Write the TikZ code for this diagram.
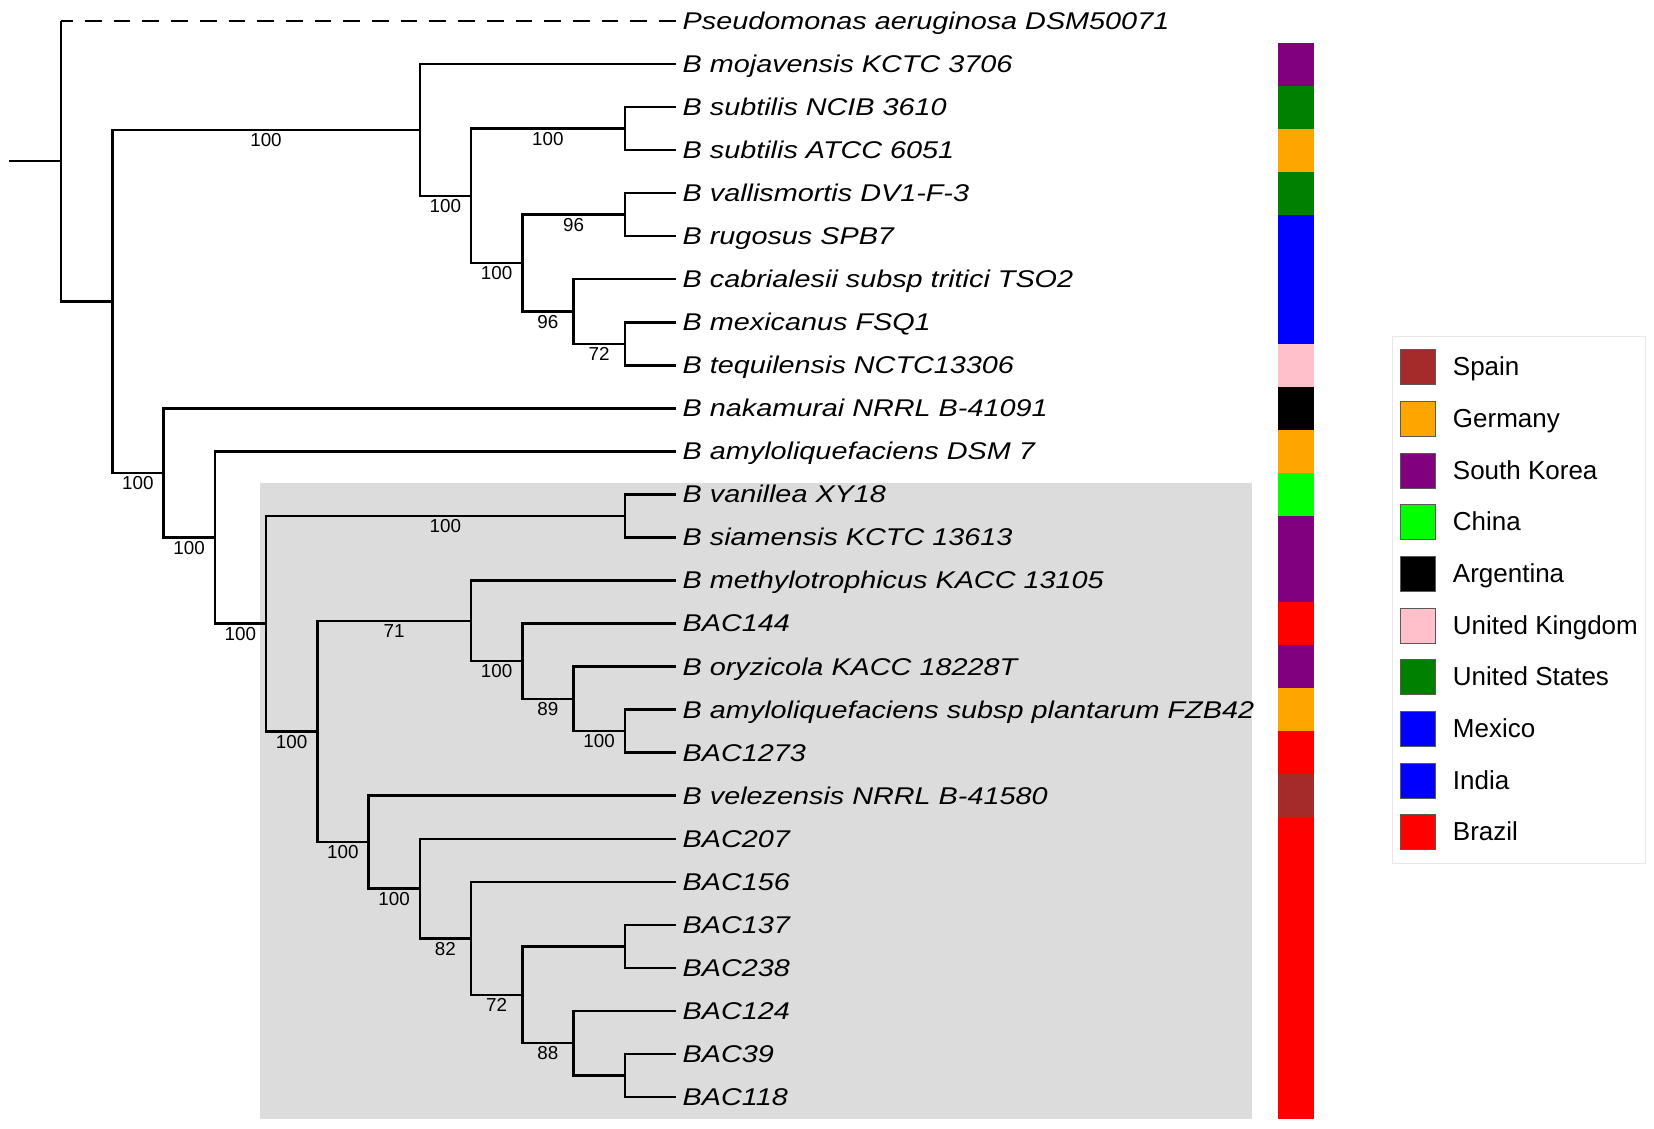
\documentclass[tikz,border=0pt]{standalone}
\usepackage{fontspec}
\setmainfont{Liberation Sans}
\newfontfamily\leaffont[FakeStretch=1.19]{Liberation Sans}
\usetikzlibrary{calc}
\definecolor{skorea}{HTML}{800080}
\definecolor{usa}{HTML}{008000}
\definecolor{germany}{HTML}{FFA500}
\definecolor{mexico}{HTML}{0000FF}
\definecolor{india}{HTML}{0000FF}
\definecolor{uk}{HTML}{FFC0CB}
\definecolor{argentina}{HTML}{000000}
\definecolor{china}{HTML}{00FF00}
\definecolor{brazil}{HTML}{FF0000}
\definecolor{spain}{HTML}{A52A2A}
\definecolor{clade}{HTML}{DCDCDC}
\definecolor{legborder}{HTML}{E8E8E8}
\begin{document}
\begin{tikzpicture}[x=1pt,y=-1pt,
  br/.style={line width=2.5pt, line join=miter},
  outdash/.style={br, dash pattern=on 16.7pt off 12pt, dash phase=4.7pt},
  boot/.style={font=\fontsize{18.8}{20}\selectfont, anchor=base, yshift=-16.7pt, inner sep=0pt},
  leaf/.style={font=\leaffont\itshape\fontsize{24.2}{26}\selectfont, anchor=base west, inner sep=0pt},
  cell/.style={minimum width=36pt, minimum height=43.04pt, inner sep=0pt, draw=none},
  swatch/.style={minimum width=35pt, minimum height=35pt, inner sep=0pt, draw=black!65, line width=0.8pt},
  legtext/.style={font=\fontsize{26}{28}\selectfont, anchor=base west, inner sep=0pt}
]
\useasboundingbox (0,0) rectangle (1654,1128);
\fill[white] (0,0) rectangle (1654,1128);
% highlighted clade
\fill[clade] (260,482.5) rectangle (1252,1118.5);

% leaf tips
\foreach \i in {0,...,25} {\coordinate (l\i) at (676,{21+43.04*\i});}

% internal nodes
\coordinate (stub) at (9,161.23);
\coordinate (R)  at (61,161.23);
\coordinate (Rt) at (61,21);
\coordinate (A)  at (112.25,301.45);
\coordinate (B)  at (419.75,129.95);
\coordinate (C)  at (471,195.85);
\coordinate (D)  at (624.75,128.6);
\coordinate (E)  at (522.25,263.1);
\coordinate (F)  at (624.75,214.68);
\coordinate (G)  at (573.5,311.52);
\coordinate (H)  at (624.75,343.8);
\coordinate (N)  at (163.5,472.96);
\coordinate (O)  at (214.75,537.56);
\coordinate (P)  at (266,623.73);
\coordinate (Q)  at (624.75,515.96);
\coordinate (S)  at (317.25,731.50);
\coordinate (T)  at (471,620.87);
\coordinate (V)  at (522.25,661.22);
\coordinate (W)  at (573.5,698.88);
\coordinate (X)  at (624.75,731.16);
\coordinate (U)  at (368.5,842.12);
\coordinate (Y)  at (419.75,888.53);
\coordinate (Z)  at (471,938.29);
\coordinate (Za) at (522.25,994.78);
\coordinate (Zb) at (624.75,946.36);
\coordinate (Zc) at (573.5,1043.2);
\coordinate (Zd) at (624.75,1075.48);

% root and outgroup
\draw[br] (stub) -- (R);
\draw[outdash] (Rt) -- (l0);
\draw[br] (Rt) -- (R) |- (A);

% clades: each bracket drawn as one path (upper child -| node |- lower child)
\draw[br] (B) -| node[boot,pos=0.25] {100} (A) |- node[boot,pos=0.75] {100} (N);
\draw[br] (l1) -| (B) |- node[boot,pos=0.75] {100} (C);
\draw[br] (D) -| node[boot,pos=0.25] {100} (C) |- node[boot,pos=0.75] {100} (E);
\draw[br] (l2) -| (D) |- (l3);
\draw[br] (F) -| node[boot,pos=0.25] {96} (E) |- node[boot,pos=0.75] {96} (G);
\draw[br] (l4) -| (F) |- (l5);
\draw[br] (l6) -| (G) |- node[boot,pos=0.75] {72} (H);
\draw[br] (l7) -| (H) |- (l8);
\draw[br] (l9) -| (N) |- node[boot,pos=0.75] {100} (O);
\draw[br] (l10) -| (O) |- node[boot,pos=0.75] {100} (P);
\draw[br] (Q) -| node[boot,pos=0.25] {100} (P) |- node[boot,pos=0.75] {100} (S);
\draw[br] (l11) -| (Q) |- (l12);
\draw[br] (T) -| node[boot,pos=0.25] {71} (S) |- node[boot,pos=0.75] {100} (U);
\draw[br] (l13) -| (T) |- node[boot,pos=0.75] {100} (V);
\draw[br] (l14) -| (V) |- node[boot,pos=0.75] {89} (W);
\draw[br] (l15) -| (W) |- node[boot,pos=0.75] {100} (X);
\draw[br] (l16) -| (X) |- (l17);
\draw[br] (l18) -| (U) |- node[boot,pos=0.75] {100} (Y);
\draw[br] (l19) -| (Y) |- node[boot,pos=0.75] {82} (Z);
\draw[br] (l20) -| (Z) |- node[boot,pos=0.75] {72} (Za);
\draw[br] (Zb) -| (Za) |- node[boot,pos=0.75] {88} (Zc);
\draw[br] (l21) -| (Zb) |- (l22);
\draw[br] (l23) -| (Zc) |- (Zd);
\draw[br] (l24) -| (Zd) |- (l25);

% leaf labels
\foreach \i/\txt in {
 0/Pseudomonas aeruginosa DSM50071,
 1/B mojavensis KCTC 3706,
 2/B subtilis NCIB 3610,
 3/B subtilis ATCC 6051,
 4/B vallismortis DV1-F-3,
 5/B rugosus SPB7,
 6/B cabrialesii subsp tritici TSO2,
 7/B mexicanus FSQ1,
 8/B tequilensis NCTC13306,
 9/B nakamurai NRRL B-41091,
 10/B amyloliquefaciens DSM 7,
 11/B vanillea XY18,
 12/B siamensis KCTC 13613,
 13/B methylotrophicus KACC 13105,
 14/BAC144,
 15/B oryzicola KACC 18228T,
 16/B amyloliquefaciens subsp plantarum FZB42,
 17/BAC1273,
 18/B velezensis NRRL B-41580,
 19/BAC207,
 20/BAC156,
 21/BAC137,
 22/BAC238,
 23/BAC124,
 24/BAC39,
 25/BAC118}
 {\node[leaf] (t\i) at ($(l\i)+(6.5,8.4)$) {\txt};}

% country colour strip
\foreach \i/\c in {1/skorea,2/usa,3/germany,4/usa,5/mexico,6/mexico,7/mexico,8/uk,
  9/argentina,10/germany,11/china,12/skorea,13/skorea,14/brazil,15/skorea,16/germany,
  17/brazil,18/spain,19/brazil,20/brazil,21/brazil,22/brazil,23/brazil,24/brazil,25/brazil}
 {\node[cell, fill=\c] (c\i) at (1296,{21+43.04*\i}) {};}

% legend
\node[draw=legborder, line width=1pt, minimum width=253pt, minimum height=527pt, inner sep=0pt] (legend) at (1518.5,599.5) {};
\foreach \j/\c/\name in {0/spain/Spain,1/germany/Germany,2/skorea/South Korea,3/china/China,
  4/argentina/Argentina,5/uk/United Kingdom,6/usa/United States,7/mexico/Mexico,8/india/India,9/brazil/Brazil}
 {\node[swatch, fill=\c] (s\j) at (1417.5,{367.1+51.67*\j}) {};
  \node[legtext] (n\j) at ($(s\j)+(35.2,8.6)$) {\name};}
\end{tikzpicture}
\end{document}
